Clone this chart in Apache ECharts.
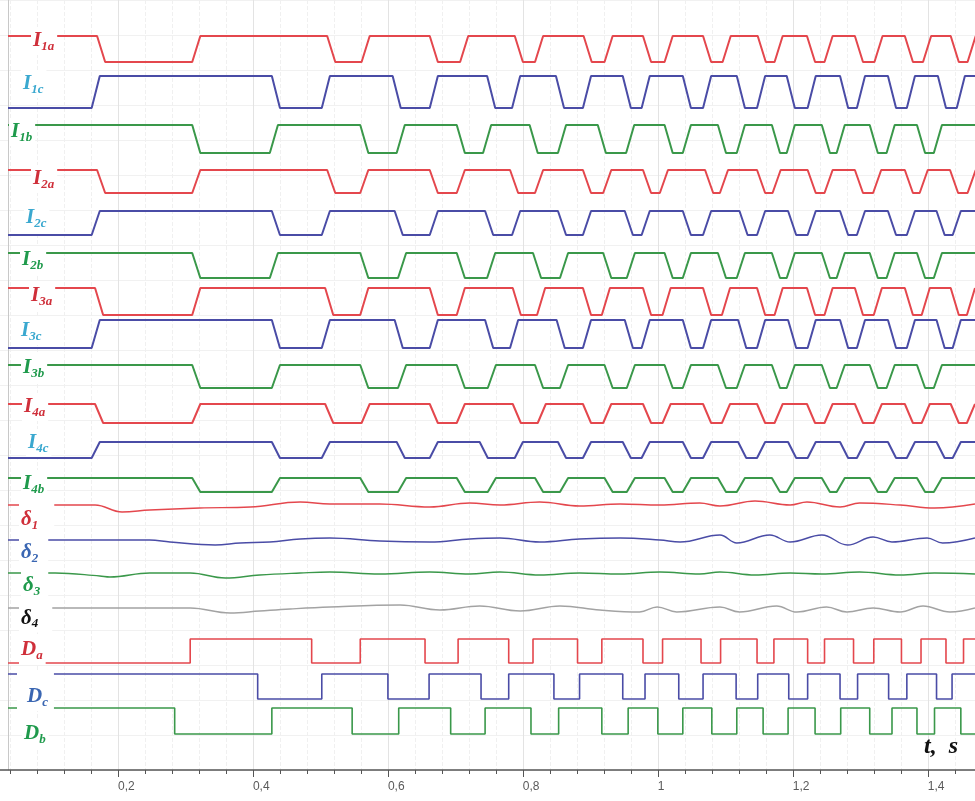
<!DOCTYPE html>
<html>
<head>
<meta charset="utf-8">
<script src="https://cdn.jsdelivr.net/npm/echarts@6/dist/echarts.min.js"></script>
<style>
  html, body { margin: 0; padding: 0; background: #fff; }
  #chart { width: 975px; height: 801px; }
</style>
</head>
<body>
<div id="chart"></div>
<script>
// time span shown, s
var tStart = 0.037, tEnd = 1.47;
var tickValues = [0.2, 0.4, 0.6, 0.8, 1, 1.2, 1.4];

// switching instants (s); the level toggles at each one
var edgesI1a = [0.169, 0.310, 0.510, 0.561, 0.662, 0.707, 0.788, 0.818, 0.890, 0.921, 0.978, 1.010, 1.067, 1.096, 1.148, 1.173, 1.221, 1.247, 1.292, 1.321, 1.366, 1.393, 1.434, 1.459];
var edgesI1c = [0.161, 0.428, 0.502, 0.607, 0.662, 0.747, 0.784, 0.849, 0.889, 0.948, 0.976, 1.037, 1.067, 1.117, 1.147, 1.191, 1.222, 1.270, 1.295, 1.341, 1.369, 1.415, 1.443];
var edgesI1b = [0.310, 0.425, 0.559, 0.613, 0.702, 0.741, 0.810, 0.852, 0.911, 0.953, 1.010, 1.037, 1.089, 1.117, 1.169, 1.191, 1.243, 1.265, 1.314, 1.339, 1.384, 1.409];
var edgesI2a = [0.169, 0.310, 0.510, 0.559, 0.662, 0.702, 0.781, 0.818, 0.889, 0.919, 0.978, 1.003, 1.070, 1.092, 1.147, 1.170, 1.222, 1.247, 1.292, 1.319, 1.366, 1.388, 1.433, 1.459];
var edgesI2c = [0.161, 0.428, 0.502, 0.610, 0.662, 0.744, 0.784, 0.852, 0.889, 0.951, 0.976, 1.037, 1.067, 1.121, 1.147, 1.193, 1.222, 1.270, 1.295, 1.341, 1.369, 1.413, 1.437];
var edgesI2b = [0.310, 0.425, 0.559, 0.615, 0.702, 0.747, 0.815, 0.855, 0.919, 0.954, 1.010, 1.037, 1.089, 1.117, 1.169, 1.191, 1.243, 1.265, 1.314, 1.339, 1.384, 1.409];
var edgesI3a = [0.166, 0.310, 0.507, 0.559, 0.662, 0.702, 0.785, 0.821, 0.889, 0.917, 0.978, 1.007, 1.067, 1.095, 1.147, 1.173, 1.221, 1.247, 1.292, 1.320, 1.366, 1.391, 1.434, 1.458];
var edgesI3c = [0.161, 0.428, 0.502, 0.610, 0.662, 0.744, 0.781, 0.850, 0.889, 0.951, 0.976, 1.037, 1.067, 1.119, 1.147, 1.193, 1.222, 1.270, 1.295, 1.341, 1.369, 1.413, 1.437];
var edgesI3b = [0.310, 0.428, 0.559, 0.615, 0.702, 0.748, 0.818, 0.855, 0.921, 0.954, 1.010, 1.037, 1.089, 1.117, 1.169, 1.191, 1.243, 1.265, 1.314, 1.339, 1.384, 1.409];
var edgesI4a = [0.166, 0.310, 0.507, 0.561, 0.662, 0.702, 0.785, 0.822, 0.889, 0.919, 0.978, 1.007, 1.067, 1.095, 1.147, 1.173, 1.221, 1.247, 1.292, 1.320, 1.366, 1.391, 1.434, 1.458];
var edgesI4c = [0.161, 0.428, 0.502, 0.613, 0.662, 0.736, 0.788, 0.852, 0.889, 0.948, 0.976, 1.037, 1.067, 1.119, 1.147, 1.193, 1.222, 1.270, 1.295, 1.341, 1.369, 1.413, 1.437];
var edgesI4b = [0.310, 0.428, 0.559, 0.615, 0.702, 0.748, 0.818, 0.855, 0.921, 0.954, 1.010, 1.037, 1.089, 1.117, 1.169, 1.191, 1.243, 1.265, 1.314, 1.339, 1.384, 1.409];
var edgesDa = [0.307, 0.487, 0.559, 0.655, 0.704, 0.779, 0.815, 0.881, 0.917, 0.978, 1.007, 1.064, 1.093, 1.147, 1.172, 1.222, 1.247, 1.290, 1.320, 1.361, 1.390, 1.427, 1.453];
var edgesDc = [0.407, 0.502, 0.600, 0.661, 0.738, 0.779, 0.846, 0.884, 0.948, 0.981, 1.031, 1.067, 1.116, 1.148, 1.194, 1.222, 1.270, 1.296, 1.342, 1.369, 1.413, 1.436];
var edgesDb = [0.284, 0.428, 0.547, 0.616, 0.693, 0.744, 0.812, 0.853, 0.917, 0.956, 1.000, 1.037, 1.080, 1.117, 1.156, 1.193, 1.233, 1.271, 1.314, 1.347, 1.384, 1.410, 1.449];

// rotor angle deviations [t, value]
var delta1 = [[0.037, 0], [0.107, 0], [0.166, 0], [0.206, -7], [0.247, -5], [0.321, -3], [0.396, -2], [0.470, 3], [0.514, 1], [0.588, 1], [0.662, -2], [0.721, 2], [0.766, 0], [0.825, 3], [0.884, -1], [0.944, 1], [1.003, 0], [1.062, 2], [1.092, -1], [1.144, 4], [1.196, 0], [1.221, 3], [1.270, -2], [1.299, 2], [1.359, 0], [1.410, -3], [1.470, 1]];
var delta2 = [[0.037, 0], [0.247, 0], [0.277, -2], [0.344, -5], [0.381, -3], [0.425, -2], [0.470, 1], [0.514, 2], [0.588, -1], [0.662, -2], [0.721, 1], [0.766, 2], [0.825, -2], [0.884, 1], [0.944, 2], [1.003, 0], [1.033, -2], [1.092, 5], [1.117, -3], [1.166, 5], [1.196, -2], [1.243, 5], [1.281, -5], [1.319, 3], [1.347, -2], [1.399, 2], [1.422, -3], [1.470, 2]];
var delta3 = [[0.037, 0], [0.107, 0], [0.173, -3], [0.188, -4], [0.247, 0], [0.307, 0], [0.359, -5], [0.410, -2], [0.470, 0], [0.514, 1], [0.588, -1], [0.662, 1], [0.721, -1], [0.766, 1], [0.825, -2], [0.884, 0], [0.944, -1], [1.003, 1], [1.062, -1], [1.092, 1], [1.144, -2], [1.196, 0], [1.243, -1], [1.299, 1], [1.359, -2], [1.410, 0], [1.470, -1]];
var delta4 = [[0.037, 0], [0.307, 0], [0.366, -5], [0.410, -3], [0.455, -1], [0.514, 1], [0.618, 3], [0.677, -2], [0.736, 2], [0.796, -3], [0.855, 2], [0.914, -2], [0.973, -4], [0.999, 1], [1.028, -4], [1.092, 1], [1.121, -4], [1.176, 2], [1.206, -4], [1.250, 1], [1.280, -4], [1.319, 0], [1.359, -4], [1.393, 2], [1.433, -4], [1.470, 0]];

var RED = '#e4474d', BLUE = '#4a4ca6', GREEN = '#3a984a', GRAY = '#a3a3a3';
var LRED = '#cf2f3a', LCYAN = '#3aa8cf', LGREEN = '#1f9a4c', LBLUE = '#3a66b2';

function pulse(level, edges, ramp) {
  var pts = [[tStart, level]];
  edges.forEach(function (e) {
    pts.push([e, level]);
    level = 1 - level;
    pts.push([e + ramp, level]);
  });
  pts.push([tEnd, level]);
  return pts;
}

// each trace: label, colours, data, band on the page (top/bottom px), label spot
var traces = [
  { sym: 'I', sub: '1a', line: RED, lab: LRED, data: pulse(1, edgesI1a, 0.012), top: 36, bot: 62, lx: 31, ly: 41 },
  { sym: 'I', sub: '1c', line: BLUE, lab: LCYAN, data: pulse(0, edgesI1c, 0.012), top: 76, bot: 108, lx: 21, ly: 84 },
  { sym: 'I', sub: '1b', line: GREEN, lab: LGREEN, data: pulse(1, edgesI1b, 0.012), top: 125, bot: 153, lx: 9, ly: 132 },
  { sym: 'I', sub: '2a', line: RED, lab: LRED, data: pulse(1, edgesI2a, 0.012), top: 170, bot: 193, lx: 31, ly: 179 },
  { sym: 'I', sub: '2c', line: BLUE, lab: LCYAN, data: pulse(0, edgesI2c, 0.012), top: 211, bot: 235, lx: 24, ly: 218 },
  { sym: 'I', sub: '2b', line: GREEN, lab: LGREEN, data: pulse(1, edgesI2b, 0.012), top: 253, bot: 278, lx: 20, ly: 260 },
  { sym: 'I', sub: '3a', line: RED, lab: LRED, data: pulse(1, edgesI3a, 0.012), top: 288, bot: 315, lx: 29, ly: 296 },
  { sym: 'I', sub: '3c', line: BLUE, lab: LCYAN, data: pulse(0, edgesI3c, 0.012), top: 320, bot: 348, lx: 19, ly: 331 },
  { sym: 'I', sub: '3b', line: GREEN, lab: LGREEN, data: pulse(1, edgesI3b, 0.012), top: 365, bot: 388, lx: 21, ly: 368 },
  { sym: 'I', sub: '4a', line: RED, lab: LRED, data: pulse(1, edgesI4a, 0.012), top: 404, bot: 423, lx: 22, ly: 407 },
  { sym: 'I', sub: '4c', line: BLUE, lab: LCYAN, data: pulse(0, edgesI4c, 0.012), top: 442, bot: 458, lx: 26, ly: 443 },
  { sym: 'I', sub: '4b', line: GREEN, lab: LGREEN, data: pulse(1, edgesI4b, 0.012), top: 478, bot: 492, lx: 21, ly: 484 },
  { sym: 'δ', sub: '1', line: RED, lab: LRED, data: delta1, top: 485, bot: 525, dev: true, lx: 19, ly: 516, pad: [10, 16, 2, 2] },
  { sym: 'δ', sub: '2', line: BLUE, lab: LBLUE, data: delta2, top: 520, bot: 560, dev: true, lx: 19, ly: 549, pad: [10, 10, 2, 2] },
  { sym: 'δ', sub: '3', line: GREEN, lab: LGREEN, data: delta3, top: 553, bot: 593, dev: true, lx: 21, ly: 582, pad: [10, 8, 2, 2] },
  { sym: 'δ', sub: '4', line: GRAY, lab: '#111', data: delta4, top: 588, bot: 628, dev: true, lx: 19, ly: 615, pad: [9, 14, 2, 2] },
  { sym: 'D', sub: 'a', line: RED, lab: LRED, data: pulse(0, edgesDa, 0), top: 639, bot: 663, lx: 19, ly: 650 },
  { sym: 'D', sub: 'c', line: BLUE, lab: LBLUE, data: pulse(1, edgesDc, 0), top: 674, bot: 699, lx: 17, ly: 691, pad: [14, 6, 2, 10] },
  { sym: 'D', sub: 'b', line: GREEN, lab: LGREEN, data: pulse(1, edgesDb, 0), top: 708, bot: 734, lx: 22, ly: 734 }
];

var dom = document.getElementById('chart');
var myChart = echarts.init(dom, null, { renderer: 'canvas' });

var grids = [
  // background + time axis; starts left of the page so that t = 0 lands at x = -17
  { left: -17, right: 0, top: 0, bottom: 31, outerBoundsMode: 'none', containLabel: false },
  // left frame line
  { left: 8, right: 0, top: 0, bottom: 31, outerBoundsMode: 'none' }
];
var xAxes = [
  {
    gridIndex: 0, type: 'value', min: 0, max: tEnd, interval: 0.2,
    axisLine: { show: true, lineStyle: { color: '#555', width: 1.5 } },
    axisTick: { show: true, length: 7, lineStyle: { color: '#555' } },
    minorTick: { show: true, splitNumber: 5, length: 4, lineStyle: { color: '#555' } },
    splitLine: { show: true, lineStyle: { color: '#e3e3e3' } },
    minorSplitLine: { show: true, lineStyle: { color: '#f0f0f0', type: 'dashed' } },
    axisLabel: {
      showMinLabel: false, showMaxLabel: false, align: 'left', margin: 11,
      color: '#5a5a5a', fontSize: 12, fontFamily: 'Liberation Sans',
      formatter: function (v) {
        return tickValues.indexOf(+v.toFixed(2)) >= 0 ? String(+v.toFixed(2)).replace('.', ',') : '';
      }
    }
  },
  { gridIndex: 1, type: 'value', min: tStart, max: tEnd, show: false }
];
var yAxes = [
  {
    gridIndex: 0, type: 'value', min: 0, max: 22, interval: 1,
    axisLine: { show: false }, axisTick: { show: false }, axisLabel: { show: false },
    splitLine: { show: true, lineStyle: { color: '#f1f1f1' } }
  },
  {
    gridIndex: 1, type: 'value', min: 0, max: 1,
    axisLine: { show: true, lineStyle: { color: '#c8c8c8' } },
    axisTick: { show: false }, axisLabel: { show: false }, splitLine: { show: false }
  }
];
var series = [];
var graphics = [];

traces.forEach(function (tr, i) {
  var gi = i + 2;
  grids.push({ left: 8, right: 0, top: tr.top, height: tr.bot - tr.top, outerBoundsMode: 'none' });
  xAxes.push({ gridIndex: gi, type: 'value', min: tStart, max: tEnd, show: false });
  yAxes.push({ gridIndex: gi, type: 'value', min: tr.dev ? -20 : 0, max: tr.dev ? 20 : 1, show: false });
  series.push({
    type: 'line',
    xAxisIndex: gi,
    yAxisIndex: gi,
    data: tr.data,
    showSymbol: false,
    symbol: 'none',
    silent: true,
    clip: false,
    smooth: tr.dev ? 0.4 : false,
    lineStyle: { color: tr.line, width: tr.dev ? 1.4 : (tr.sym === 'D' ? 1.6 : 2) }
  });
  graphics.push({
    type: 'text',
    x: tr.lx,
    y: tr.ly,
    z: 100,
    style: {
      text: '{m|' + tr.sym + '}{s|' + tr.sub + '}',
      verticalAlign: 'middle',
      backgroundColor: '#fff',
      padding: tr.pad || [2, 3, 2, 2],
      rich: {
        m: { fontSize: 21, fontStyle: 'italic', fontWeight: 'bold', fontFamily: 'Liberation Serif', fill: tr.lab, lineHeight: 24 },
        s: { fontSize: 13, fontStyle: 'italic', fontWeight: 'bold', fontFamily: 'Liberation Serif', fill: tr.lab, verticalAlign: 'bottom', lineHeight: 24 }
      }
    }
  });
});

graphics.push({
  type: 'text', x: 924, y: 747, z: 100,
  style: { text: 't,  s', font: 'italic bold 24px "Liberation Serif"', fill: '#111', verticalAlign: 'middle' }
});

var option = {
  animation: false,
  backgroundColor: '#fff',
  grid: grids,
  xAxis: xAxes,
  yAxis: yAxes,
  series: series,
  graphic: graphics
};

option && myChart.setOption(option);
</script>
</body>
</html>
